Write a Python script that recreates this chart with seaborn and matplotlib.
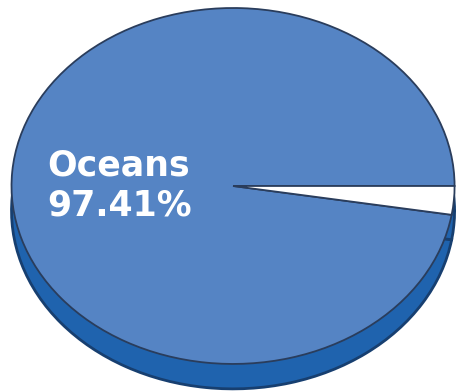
import matplotlib
matplotlib.use("Agg")
import matplotlib.pyplot as plt
import seaborn as sns

# Data
categories = ["Oceans", "Other"]
shares = [97.41, 2.59]
face_colors = ["#5584c4", "#ffffff"]
side_colors = ["#1f63ae", "#1f63ae"]

sns.set_theme(style="white")
plt.rcParams["font.family"] = ["DejaVu Sans"]

fig = plt.figure(figsize=(4.59, 3.91), dpi=100)
ax = fig.add_axes([0, 0, 1, 1])

depth = 0.14
# side (depth) of the 3D pie
ax.pie(shares, colors=side_colors, startangle=0, counterclock=True,
       center=(0, -depth), radius=1.0,
       wedgeprops=dict(edgecolor="#173f70", linewidth=2.0))
# top face
wedges, _ = ax.pie(shares, colors=face_colors, startangle=0, counterclock=True,
                   center=(0, 0), radius=1.0,
                   wedgeprops=dict(edgecolor="#2a3d5c", linewidth=1.3))

ax.set_aspect("auto")
ax.set_xlim(-1.052, 1.020)
ax.set_ylim(-1.152, 1.045)
ax.axis("off")

label_name = categories[0]
label_value = f"{shares[0]:.2f}%"
fig.text(47 / 459, 1 - 176 / 391, label_name, color="white", fontsize=25,
         fontweight="bold", ha="left", va="baseline")
fig.text(47 / 459, 1 - 216 / 391, label_value, color="white", fontsize=25,
         fontweight="bold", ha="left", va="baseline")

fig.savefig("out.png", dpi=100, facecolor="white")
